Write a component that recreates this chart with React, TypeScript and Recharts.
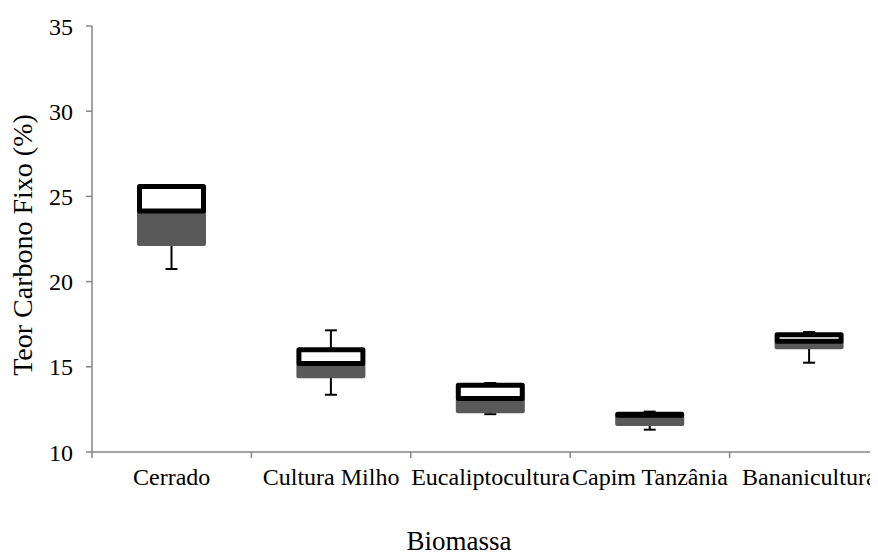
import { ComposedChart, Bar, XAxis, YAxis } from "recharts";

// valores (teor de carbono fixo, %)
const categorias = ["Cerrado", "Cultura Milho", "Eucaliptocultura", "Capim Tanzânia", "Bananicultura"];
const minimo = [20.74, 13.36, 12.22, 11.31, 15.24];
const quartil1 = [22.09, 14.33, 12.27, 11.53, 16.03];
const mediana = [24.15, 15.19, 13.14, 12.16, 16.5];
const quartil3 = [25.58, 16.0, 13.92, 12.22, 16.88];
const maximo = [25.58, 17.14, 14.05, 12.37, 17.04];
const yTicks = [10, 15, 20, 25, 30, 35];

const FONTE = '"Liberation Serif", "Times New Roman", serif';
const EIXO = "#868686";

const dados = categorias.map((nome, i) => ({
  nome,
  bigode: [minimo[i], maximo[i]],
  inferior: [quartil1[i], mediana[i]],
  superior: [mediana[i], quartil3[i]],
}));

function limites(p: any) {
  const top = Math.min(p.y, p.y + p.height);
  const h = Math.abs(p.height);
  return { top, h };
}

function Bigode(p: any) {
  const { top, h } = limites(p);
  const cx = p.x + p.width / 2;
  return (
    <g>
      <line x1={cx} x2={cx} y1={top} y2={top + h} stroke="#000" strokeWidth={2} />
      <line x1={cx - 6} x2={cx + 6} y1={top} y2={top} stroke="#000" strokeWidth={2} />
      <line x1={cx - 6} x2={cx + 6} y1={top + h} y2={top + h} stroke="#000" strokeWidth={2} />
    </g>
  );
}

function CaixaInferior(p: any) {
  const { top, h } = limites(p);
  return <rect x={p.x} y={top} width={p.width} height={h} rx={2} fill="#595959" />;
}

function CaixaSuperior(p: any) {
  const { top, h } = limites(p);
  return (
    <rect
      x={p.x + 2.5}
      y={top}
      width={p.width - 5}
      height={h}
      fill="#fff"
      stroke="#000"
      strokeWidth={5}
      strokeLinejoin="round"
    />
  );
}

function TickCategoria(p: any) {
  const { x, y, payload } = p;
  const off = payload.offset ?? 0;
  return (
    <g>
      <line x1={x - off} x2={x - off} y1={y - 16} y2={y - 10} stroke={EIXO} strokeWidth={1.5} />
      <text x={x} y={y} dy="0.71em" textAnchor="middle" fontFamily={FONTE} fontSize={24} fill="#000">
        {payload.value}
      </text>
    </g>
  );
}

export default function App() {
  return (
    <div style={{ width: 870, height: 547, overflow: "hidden" }}>
      <ComposedChart
        width={890}
        height={547}
        data={dados}
        barGap={-69}
        margin={{ top: 18, right: 9, left: 0, bottom: 43 }}
      >
        <XAxis
          dataKey="nome"
          height={60}
          tickLine={false}
          tickSize={6}
          tickMargin={10}
          tick={<TickCategoria />}
          axisLine={{ stroke: EIXO, strokeWidth: 1.5 }}
          label={{
            content: ({ viewBox }: any) => (
              <text
                x={viewBox.x + 367}
                y={viewBox.y + viewBox.height + 38}
                textAnchor="middle"
                fontFamily={FONTE}
                fontSize={27}
                fill="#000"
              >
                Biomassa
              </text>
            ),
          }}
        />
        <YAxis
          domain={[10, 35]}
          ticks={yTicks}
          width={84}
          tickSize={6}
          tickMargin={13}
          tick={{ fontFamily: FONTE, fontSize: 24, fill: "#000" }}
          tickLine={{ stroke: EIXO, strokeWidth: 1.5 }}
          axisLine={{ stroke: EIXO, strokeWidth: 1.5 }}
          label={{
            content: ({ viewBox }: any) => {
              const cx = viewBox.x + 14;
              const cy = viewBox.y + viewBox.height / 2 + 6;
              return (
                <text
                  x={cx}
                  y={cy}
                  transform={`rotate(-90 ${cx} ${cy})`}
                  textAnchor="middle"
                  dominantBaseline="central"
                  fontFamily={FONTE}
                  fontSize={28}
                  fill="#000"
                >
                  Teor Carbono Fixo (%)
                </text>
              );
            },
          }}
        />
        <Bar dataKey="bigode" barSize={69} shape={<Bigode />} isAnimationActive={false} />
        <Bar dataKey="inferior" barSize={69} shape={<CaixaInferior />} isAnimationActive={false} />
        <Bar dataKey="superior" barSize={69} shape={<CaixaSuperior />} isAnimationActive={false} />
      </ComposedChart>
    </div>
  );
}
